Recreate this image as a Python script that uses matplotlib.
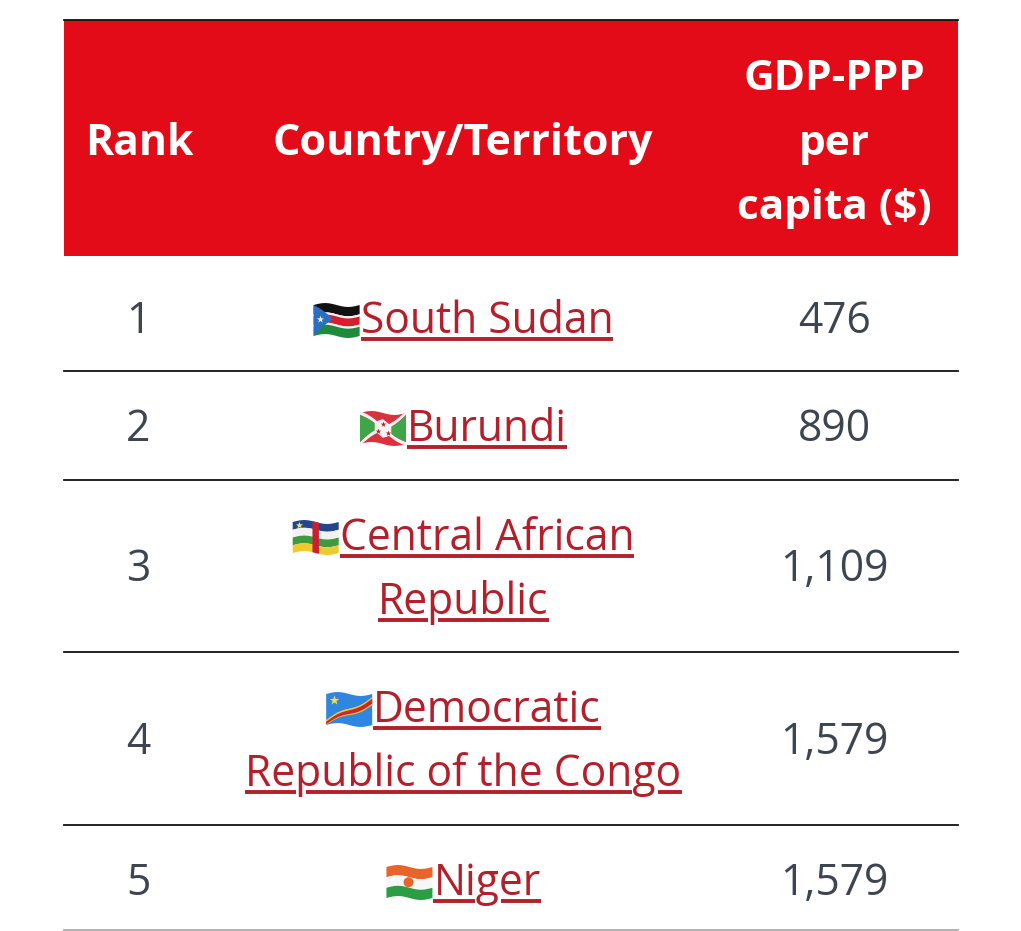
"""Lowest GDP-PPP per capita table, drawn on a pixel-sized axes."""
import matplotlib
matplotlib.use("Agg")
import matplotlib.pyplot as plt, numpy as np
from matplotlib.patches import Rectangle, Polygon, Circle

plt.rcParams["font.family"] = ["Open Sans", "DejaVu Sans"]

header_rank = "Rank"
header_country = "Country/Territory"
header_gdp = ["GDP-PPP", "per", "capita ($)"]
ranks = ["1", "2", "3", "4", "5"]
countries = [["South Sudan"], ["Burundi"], ["Central African", "Republic"],
             ["Democratic", "Republic of the Congo"], ["Niger"]]
gdp = ["476", "890", "1,109", "1,579", "1,579"]
flags = ["ss", "bi", "cf", "cd", "ne"]

RED = "#e30b17"
LINK = "#b3202c"
BODY = "#3d4650"
FS = 30.7

fig = plt.figure(figsize=(10.21, 9.31), dpi=100)
ax = fig.add_axes([0, 0, 1, 1])
ax.set_xlim(0, 1021)
ax.set_ylim(931, 0)
ax.axis("off")

ax.add_patch(Rectangle((64, 20), 894, 236, fc=RED, ec="none"))
ax.plot([64, 958], [20, 20], color="#111111", lw=1.3)
for y, c in zip([370.5, 479.5, 651.5, 824.5, 930], ["#111111"] * 4 + ["#aaaaaa"]):
    ax.plot([64, 958], [y, y], color=c, lw=1.3)

ax.text(139, 155, header_rank, color="white", fontsize=30.7, fontweight="bold", ha="center", va="baseline")
ax.text(462.5, 155, header_country, color="white", fontsize=31.05, fontweight="bold", ha="center", va="baseline")
for txt, y in zip(header_gdp, [90, 155, 219]):
    ax.text(834, y, txt, color="white", fontsize=30.5, fontweight="bold", ha="center", va="baseline")


def wave(u, v, x0, y0, w=46, h=31):
    # flag coordinates (0..1) to pixels, with a bit of flutter
    return np.column_stack([x0 + u * w, y0 + v * h - 2 * np.sin(u * 2 * np.pi)])


def shape(x0, y0, pts, color, z=4):
    pts = np.array(pts, dtype=float)
    closed = np.vstack([pts, pts[:1]])
    us, vs = [], []
    for a, b in zip(closed[:-1], closed[1:]):
        t = np.linspace(0, 1, 12, endpoint=False)
        us.extend(a[0] + t * (b[0] - a[0]))
        vs.extend(a[1] + t * (b[1] - a[1]))
    ax.add_patch(Polygon(wave(np.array(us), np.array(vs), x0, y0), fc=color, ec="none", zorder=z))


def band(x0, y0, v0, v1, color, u0=0, u1=1, z=4):
    shape(x0, y0, [(u0, v0), (u1, v0), (u1, v1), (u0, v1)], color, z)


def star(x0, y0, u, v, color, size=8, z=6):
    p = wave(np.array([u]), np.array([v]), x0, y0)[0]
    ax.scatter(p[0], p[1], marker="*", s=size * 6, color=color, linewidths=0, zorder=z)


def draw_flag(code, x0, y0):
    if code == "ss":
        for v0, v1, c in [(0, .3, "#111111"), (.3, .37, "#f4f4f4"), (.37, .63, "#d81e2c"),
                          (.63, .7, "#f4f4f4"), (.7, 1, "#1f8a3c")]:
            band(x0, y0, v0, v1, c)
        shape(x0, y0, [(0, 0), (.42, .5), (0, 1)], "#2a6fc4", 5)
        star(x0, y0, .13, .5, "#f7f0c0", 5)
    elif code == "bi":
        band(x0, y0, 0, 1, "#d9323f")
        shape(x0, y0, [(0, .08), (.45, .5), (0, .92)], "#3fa648", 5)
        shape(x0, y0, [(1, .08), (.55, .5), (1, .92)], "#3fa648", 5)
        for a, b in [((0, 0), (1, 1)), ((0, 1), (1, 0))]:
            d = .06
            shape(x0, y0, [(a[0], a[1] - d), (b[0], b[1] - d), (b[0], b[1] + d), (a[0], a[1] + d)], "#f2f2f2", 6)
        shape(x0, y0, [(.5, .2), (.68, .35), (.68, .65), (.5, .8), (.32, .65), (.32, .35)], "#f2f2f2", 7)
        for u, v in [(.5, .35), (.4, .62), (.6, .62)]:
            star(x0, y0, u, v, "#b5202e", 3, 8)
    elif code == "cf":
        for v0, v1, c in [(0, .25, "#24468f"), (.25, .5, "#f2f2f2"), (.5, .75, "#3f9a3d"), (.75, 1, "#f0c92b")]:
            band(x0, y0, v0, v1, c)
        band(x0, y0, 0, 1, "#c8202f", .43, .57, 5)
        star(x0, y0, .13, .13, "#f0e08a", 5)
    elif code == "cd":
        band(x0, y0, 0, 1, "#2f86e0")
        shape(x0, y0, [(0, .84), (1, .1), (1, .36), (0, 1)], "#f2c832", 5)
        shape(x0, y0, [(0, .9), (1, .15), (1, .31), (0, .98)], "#c9262e", 6)
        star(x0, y0, .17, .25, "#f5dc5a", 9)
    elif code == "ne":
        for v0, v1, c in [(0, .33, "#e8642a"), (.33, .67, "#f7f7f7"), (.67, 1, "#2b9e44")]:
            band(x0, y0, v0, v1, c)
        p = wave(np.array([.48]), np.array([.5]), x0, y0)[0]
        ax.add_patch(Circle(p, 5, fc="#e8642a", ec="none", zorder=6))


def text_width(txt):
    t = ax.text(0, 0, txt, fontsize=FS)
    w = t.get_window_extent(fig.canvas.get_renderer()).width
    t.remove()
    return w


def link_line(txt, y, flag=None):
    # flag + underlined text, centred on the country column as one line
    w = text_width(txt)
    flag_w = 47 if flag else 0
    left = 463.5 - (w + flag_w) / 2
    start = left + flag_w
    ax.text(start, y, txt, color=LINK, fontsize=FS, ha="left", va="baseline", zorder=5)
    # underline skips the descenders: p only round its stem, g whole
    segs, pos = [], start
    for i, ch in enumerate(txt):
        if ch in "gp":
            a = start + text_width(txt[:i])
            if ch == "p":
                segs.append((pos, a))
                pos = a + 10
            else:
                segs.append((pos, a - 1))
                pos = a + text_width(ch) + 2
    segs.append((pos, start + w))
    for a, b in segs:
        ax.plot([a, b], [y + 5.5, y + 5.5], color=LINK, lw=2.8, solid_capstyle="butt", zorder=3)
    if flag:
        draw_flag(flag, left, y - 28)


rank_y = [333, 441, 581, 754, 895]
line_y = [[333], [441], [550, 614], [722, 786], [895]]
for rank, lines, val, code, ry, ys in zip(ranks, countries, gdp, flags, rank_y, line_y):
    ax.text(138.5, ry, rank, color=BODY, fontsize=FS, ha="center", va="baseline")
    ax.text(834, ry, val, color=BODY, fontsize=FS, ha="center", va="baseline")
    for i, (txt, y) in enumerate(zip(lines, ys)):
        link_line(txt, y, code if i == 0 else None)

fig.savefig("out.png", dpi=100, facecolor="white")
plt.close(fig)
